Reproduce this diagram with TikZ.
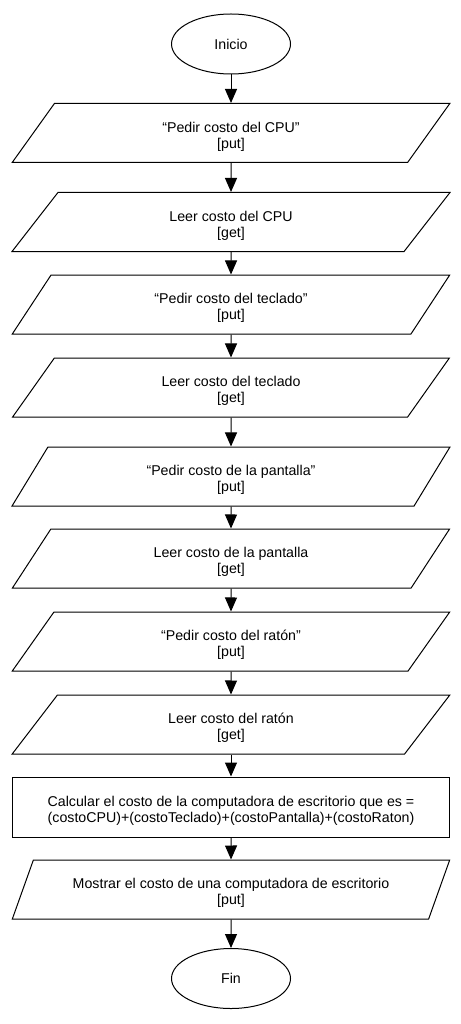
\documentclass[tikz,border=0pt]{standalone}
\usepackage{fontspec}
\setmainfont{Liberation Sans}
\usetikzlibrary{shapes.geometric,arrows.meta}
\begin{document}
\begin{tikzpicture}[x=1pt,y=-1pt,
  every node/.style={font=\fontsize{14.2}{16}\selectfont, align=center},
  term/.style={draw, line width=1pt, ellipse, minimum width=119pt, minimum height=60pt},
  io/.style={draw, line width=1pt, trapezium, trapezium left angle=68, trapezium right angle=112,
    trapezium stretches=true, minimum width=438pt, minimum height=59pt, text height=33pt},
  proc/.style={draw, line width=1pt, rectangle, minimum width=437pt, minimum height=60pt, text height=33pt},
  flow/.style={line width=1pt, -{Triangle[length=14pt,width=12pt]}}]
\useasboundingbox (0,0) rectangle (460,1024);

\node [term] (inicio) at (231, 44) {Inicio};
\node [io] (pedircpu) at (231, 133) {“Pedir costo del CPU”\\{[put]}};
\node [io] (leercpu) at (231, 222) {Leer costo del CPU\\{[get]}};
\node [io] (pedirtec) at (231, 304.5) {“Pedir costo del teclado”\\{[put]}};
\node [io] (leertec) at (231, 387.5) {Leer costo del teclado\\{[get]}};
\node [io] (pedirpan) at (231, 476.5) {“Pedir costo de la pantalla”\\{[put]}};
\node [io] (leerpan) at (231, 558.5) {Leer costo de la pantalla\\{[get]}};
\node [io] (pedirrat) at (231, 641.5) {“Pedir costo del ratón”\\{[put]}};
\node [io] (leerrat) at (231, 724.5) {Leer costo del ratón\\{[get]}};
\node [proc] (calc) at (231, 807) {Calcular el costo de la computadora de escritorio que es =\\(costoCPU)+(costoTeclado)+(costoPantalla)+(costoRaton)};
\node [io] (mostrar) at (231, 889.5) {Mostrar el costo de una computadora de escritorio\\{[put]}};
\node [term] (fin) at (231, 978.5) {Fin};

\draw [flow] (inicio) -- (pedircpu);
\draw [flow] (pedircpu) -- (leercpu);
\draw [flow] (leercpu) -- (pedirtec);
\draw [flow] (pedirtec) -- (leertec);
\draw [flow] (leertec) -- (pedirpan);
\draw [flow] (pedirpan) -- (leerpan);
\draw [flow] (leerpan) -- (pedirrat);
\draw [flow] (pedirrat) -- (leerrat);
\draw [flow] (leerrat) -- (calc);
\draw [flow] (calc) -- (mostrar);
\draw [flow] (mostrar) -- (fin);
\end{tikzpicture}
\end{document}
